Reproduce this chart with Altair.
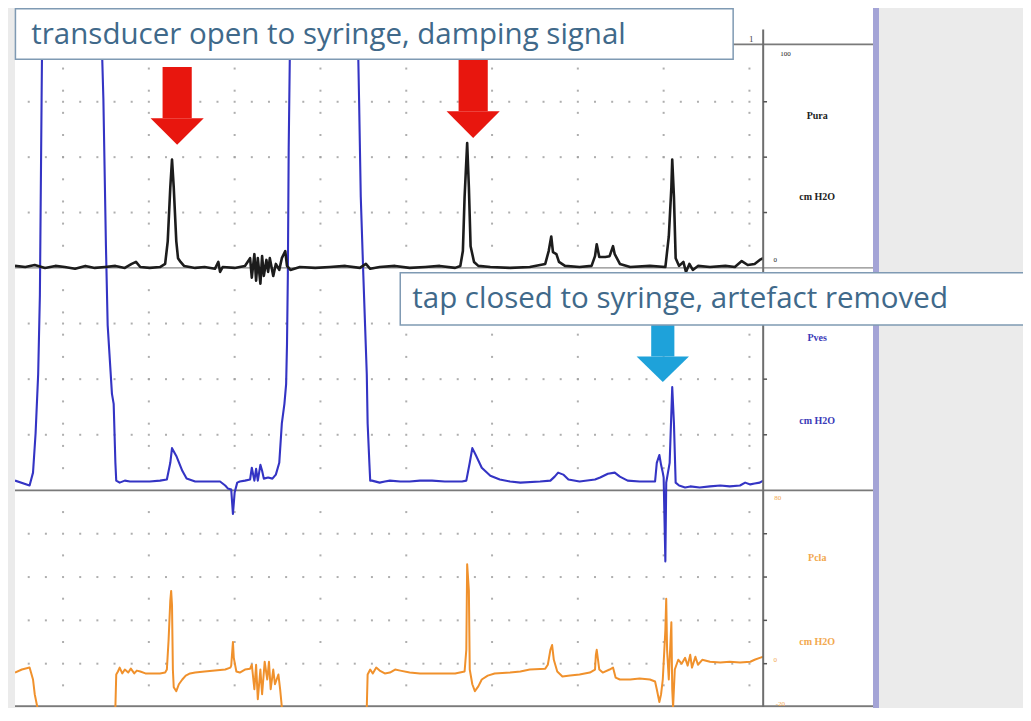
import altair as alt
import pandas as pd

# ---------------- trace data: time (s), pressure (cmH2O) ----------------
pura_t = [0.0, 1.2, 2.3, 3.5, 4.7, 5.8, 7.0, 8.2, 9.3, 10.5, 11.7, 12.8, 13.6, 14.1, 14.6, 15.7, 16.9, 17.5, 17.8, 18.1,
          18.3, 18.5, 18.8, 19.0, 19.3, 19.7, 21.0, 22.1, 23.3, 23.7, 23.9, 24.2, 25.6, 26.8, 27.4, 27.6, 27.9, 28.1, 28.3, 28.6,
          28.8, 29.0, 29.3, 29.5, 29.7, 30.1, 30.4, 30.8, 31.1, 31.5, 31.7, 32.1, 33.2, 35.0, 36.7, 38.5, 40.2, 40.9, 41.4, 42.5,
          44.3, 46.0, 47.8, 49.5, 51.3, 51.9, 52.2, 52.4, 52.7, 52.9, 53.1, 53.5, 54.0, 55.4, 57.7, 60.0, 61.8, 62.2, 62.5, 62.7,
          63.1, 63.4, 64.1, 65.8, 67.2, 67.6, 67.8, 68.1, 68.8, 69.3, 69.7, 69.9, 70.5, 71.7, 74.0, 75.8, 76.2, 76.5, 76.6, 76.8,
          77.0, 77.4, 77.9, 78.2, 78.6, 79.0, 79.6, 81.0, 82.8, 83.9, 84.7, 85.4, 86.2, 86.8, 87.2]
pura_v = [0.9, 0.4, 1.3, 0.0, 0.9, 0.4, -0.4, 0.9, 0.0, 0.4, 0.9, 0.0, 1.8, 2.7, 0.4, 0.0, 0.4, 1.8, 12.0, 36.4,
          48.9, 36.4, 12.0, 4.4, 2.7, 0.9, 0.0, 0.4, -0.4, 2.7, -1.8, 0.4, 0.0, 0.9, 4.4, -4.4, 6.2, -5.8, 4.4, -7.1,
          5.3, -3.6, 3.6, -1.8, 4.4, -3.6, 1.8, -0.9, 4.4, 7.6, 0.9, -0.9, 0.4, 0.0, 0.4, 0.9, 0.0, 1.8, -0.4, 0.4,
          0.9, 0.0, 0.4, 0.9, 0.0, 0.9, 7.6, 32.0, 56.4, 36.4, 9.8, 2.7, 0.9, 0.4, 0.0, 0.4, 1.8, 7.6, 14.2, 7.1,
          6.2, 2.7, 0.9, 0.4, 0.9, 5.3, 10.7, 4.9, 4.9, 5.3, 9.8, 6.2, 1.8, 0.4, 0.9, 0.4, 14.2, 36.4, 48.9, 32.0,
          4.4, 0.9, 2.7, -1.8, 1.8, -0.9, 0.9, 0.4, 0.9, 0.4, 3.1, 1.3, 1.8, 3.6, 4.4]

pves_t = [0.0, 1.7, 2.1, 2.4, 2.7, 2.9, 3.0, 3.1, 3.4, 9.9, 10.0, 10.3, 10.6, 10.8, 11.3, 11.5, 11.7, 11.8, 12.2, 12.8,
          13.4, 14.6, 15.7, 16.9, 17.7, 18.1, 18.3, 18.8, 19.5, 20.0, 21.0, 22.7, 23.9, 24.5, 24.8, 25.2, 25.4, 25.6, 25.9, 26.2,
          26.8, 27.4, 27.6, 27.9, 28.1, 28.3, 28.6, 28.8, 29.0, 29.5, 30.0, 30.4, 30.8, 31.1, 31.4, 31.6, 31.7, 31.8, 31.9, 32.1,
          32.3, 39.7, 39.9, 40.1, 40.3, 40.6, 40.8, 41.0, 41.1, 41.3, 41.4, 41.6, 42.5, 43.1, 43.7, 44.9, 46.0, 47.2, 48.6, 50.1,
          52.1, 52.6, 53.0, 53.3, 53.7, 54.4, 55.4, 56.5, 57.7, 58.9, 61.2, 62.4, 62.9, 63.3, 63.9, 64.5, 65.8, 67.6, 68.2, 69.1,
          69.9, 70.5, 71.4, 72.8, 74.6, 74.8, 75.1, 75.3, 75.5, 75.6, 75.8, 75.9, 76.3, 76.6, 76.8, 77.0, 77.4, 78.1, 78.7, 79.8,
          81.0, 82.2, 83.3, 84.5, 85.1, 85.7, 86.2, 86.8, 87.2]
pves_v = [4.4, 2.2, 8.0, 25.7, 52.2, 87.6, 131.9, 176.1, 300, 300, 216.8, 176.1, 109.7, 74.3, 43.4, 38.9, 12.4, 4.4, 3.5, 4.4,
          4.0, 4.0, 4.0, 4.4, 4.9, 12.4, 19.0, 15.5, 8.8, 5.3, 4.0, 4.0, 4.0, 2.2, 0.9, 0.4, -10.6, -0.9, 3.5, 4.0,
          4.4, 4.9, 10.2, 4.4, 9.7, 4.4, 11.5, 8.8, 5.3, 5.8, 5.3, 7.1, 12.4, 30.1, 38.9, 47.8, 65.5, 96.5, 154.0, 216.8,
          300, 300, 216.8, 176.1, 131.9, 96.5, 74.3, 52.2, 30.1, 12.4, 4.4, 4.4, 3.5, 4.0, 4.4, 4.0, 4.0, 4.4, 4.4, 4.0,
          4.0, 4.4, 12.4, 19.0, 15.9, 10.2, 6.6, 4.9, 4.0, 3.5, 4.0, 4.4, 6.2, 8.0, 7.1, 4.9, 4.0, 4.9, 5.8, 7.5,
          8.0, 6.2, 4.4, 4.0, 4.0, 12.4, 15.9, 11.5, 8.0, 5.8, -31.9, 3.5, 12.4, 46.5, 30.1, 3.5, 2.2, 1.3, 1.8, 1.3,
          1.8, 2.2, 1.8, 2.2, 3.5, 2.7, 3.1, 3.5, 4.4]

pcla_t = [0.0, 0.8, 1.7, 2.1, 2.3, 2.6, 2.7, 11.5, 11.7, 11.8, 12.0, 12.2, 12.5, 12.8, 13.2, 13.5, 13.9, 14.2, 14.6, 15.2,
          15.7, 16.9, 17.5, 17.7, 17.9, 18.1, 18.2, 18.3, 18.4, 18.5, 18.8, 19.1, 19.5, 19.9, 20.4, 21.0, 22.1, 23.3, 24.5, 25.1,
          25.2, 25.4, 25.5, 25.8, 26.2, 26.8, 27.4, 27.6, 27.9, 28.1, 28.3, 28.6, 28.8, 29.1, 29.4, 29.6, 29.8, 30.1, 30.3, 30.7,
          30.9, 31.1, 31.2, 40.9, 41.0, 41.1, 41.4, 41.7, 42.1, 42.5, 43.1, 43.7, 44.3, 44.9, 46.0, 47.2, 48.4, 49.5, 51.3, 52.4,
          52.6, 52.7, 52.9, 53.0, 53.3, 53.6, 54.0, 54.4, 55.1, 55.9, 57.7, 58.9, 60.0, 61.8, 62.1, 62.4, 62.6, 62.8, 63.2, 63.8,
          64.7, 65.8, 67.0, 67.6, 67.7, 67.8, 68.1, 68.5, 69.3, 69.7, 70.0, 70.5, 71.7, 72.8, 74.0, 74.6, 74.8, 75.1, 75.3, 75.5,
          75.8, 75.9, 76.0, 76.2, 76.5, 76.6, 76.7, 76.9, 77.3, 77.7, 78.1, 78.4, 78.7, 78.9, 79.3, 79.6, 80.1, 81.0, 82.2, 83.3,
          84.5, 85.7, 86.2, 86.8, 87.2]
pcla_v = [-4.1, -2.7, -1.8, -7.3, -14.1, -20.0, -40, -40, -20.0, -5.0, -3.6, -1.8, -4.5, -2.7, -4.1, -2.3, -4.5, -3.2, -3.6, -4.5,
          -4.5, -4.5, -4.1, -2.7, 10.9, 29.1, 33.6, 26.8, -2.7, -10.9, -12.7, -9.5, -7.3, -5.5, -4.5, -4.1, -3.6, -3.2, -2.7, -1.8,
          -0.9, 10.0, 2.7, -3.6, -4.1, -2.7, -2.3, -0.5, -11.8, -0.5, -16.4, -2.7, -14.1, 0.9, -7.3, 0.9, -11.8, -2.7, -9.5, -5.0,
          -11.8, -20.0, -40, -40, -20.0, -5.0, -2.7, -4.5, -1.8, -3.2, -4.5, -4.1, -2.7, -3.2, -4.1, -4.5, -4.5, -4.5, -4.5, -3.6,
          6.4, 45.9, 33.6, -2.7, -9.5, -12.7, -10.5, -7.3, -5.5, -4.5, -4.1, -3.6, -2.7, -2.3, -0.5, 6.4, 8.6, 1.8, -3.6, -5.9,
          -5.5, -5.0, -4.1, -2.7, 4.1, 6.4, -2.7, -4.1, -2.7, -1.8, -6.4, -7.3, -7.3, -6.8, -7.3, -8.2, -11.8, -17.7, -14.1, -7.3,
          15.5, 30.0, 6.4, -7.3, 19.1, -11.8, -20.0, -2.7, 1.8, 0.0, 2.7, -0.9, 4.1, -1.8, 3.2, -0.5, 1.8, 0.9, 0.5, 0.9,
          0.5, 0.9, 1.8, 2.7, 3.2]

# channel labels and scale labels
channels = ["Pura", "Pves", "Pcla"]
unit = "cm H2O"
scale_labels = [("Pura", "100"), ("Pura", "0"), ("Pcla", "80"), ("Pcla", "0"), ("Pcla", "-20")]
note_open = "transducer open to syringe, damping signal"
note_closed = "tap closed to syringe, artefact removed"

# ---------------- layout ----------------
W, H = 858, 699          # plot area (px)
REF_H = 710.0            # proportions of the recording window
T_MAX = 100.0            # seconds across plot area
T_END = 87.2             # end of recording / axis line


def band_domain(v_lo, px_lo, v_hi, px_hi):
    k = (v_hi - v_lo) / (px_lo - px_hi)
    return [v_lo - (REF_H - px_lo) * k, v_hi + px_hi * k]


DOM = {
    "Pura": band_domain(0, 264, 100, 39),
    "Pves": band_domain(0, 490, 100, 264),
    "Pcla": band_domain(-20, 710, 80, 490),
}
COL = {"Pura": "#1c1c1c", "Pves": "#3434c4", "Pcla": "#f0912c"}
LABCOL = {"Pura": "#222222", "Pves": "#3a3ab8", "Pcla": "#f2a84e"}

xs = alt.Scale(domain=[0, T_MAX], nice=False, zero=False)


def X(f="t"):
    return alt.X(f"{f}:Q", scale=xs, axis=None)


def Y(ch, f="v"):
    return alt.Y(f"{f}:Q", scale=alt.Scale(domain=DOM[ch], nice=False, zero=False), axis=None)


layers = []

# dotted grid
grid_cols = [5.6 + 10 * k for k in range(9)]
row_ts = [1.6 + 2 * k for k in range(43)]
grid_rows = {"Pura": [25, 50, 75], "Pves": [25, 50, 75], "Pcla": [0, 20, 40, 60]}
grid_colv = {"Pura": list(range(10, 100, 10)), "Pves": list(range(10, 100, 10)), "Pcla": [-10, 10, 30, 50, 70]}
for ch in channels:
    pts = [(t, r) for r in grid_rows[ch] for t in row_ts] + [(c, v) for c in grid_cols for v in grid_colv[ch]]
    df = pd.DataFrame(pts, columns=["t", "v"])
    layers.append(alt.Chart(df).mark_square(size=4, color="#a0a0a0", opacity=0.85).encode(x=X(), y=Y(ch)))

# panel separators (in each channel's own units)
sep = pd.DataFrame({"t": [0.0], "t2": [T_MAX], "v": [0.0]})
layers.append(alt.Chart(sep).mark_rule(color="#8a8a8a", strokeWidth=1.2).encode(x=X(), x2="t2:Q", y=Y("Pura")))
layers.append(alt.Chart(sep).mark_rule(color="#7a7a7a", strokeWidth=1.6).encode(x=X(), x2="t2:Q", y=Y("Pves")))
sep3 = pd.DataFrame({"t": [0.0], "t2": [T_MAX], "v": [-19.6]})
layers.append(alt.Chart(sep3).mark_rule(color="#7a7a7a", strokeWidth=1.6).encode(x=X(), x2="t2:Q", y=Y("Pcla")))
top_line = pd.DataFrame({"t": [83.7], "t2": [T_MAX], "v": [100.9]})
layers.append(alt.Chart(top_line).mark_rule(color="#7a7a7a", strokeWidth=1.6).encode(x=X(), x2="t2:Q", y=Y("Pura")))

# traces
for ch, tt, vv, w in [("Pcla", pcla_t, pcla_v, 2.0), ("Pves", pves_t, pves_v, 2.1), ("Pura", pura_t, pura_v, 2.6)]:
    df = pd.DataFrame({"t": tt, "v": vv, "i": list(range(len(tt)))})
    layers.append(alt.Chart(df).mark_line(color=COL[ch], strokeWidth=w, clip=True, strokeJoin="round").encode(
        x=X(), y=Y(ch), order="i:Q"))

# axis line with ticks
ax = pd.DataFrame({"t": [T_END], "v": [107.6], "v2": [DOM["Pura"][0]]})
layers.append(alt.Chart(ax).mark_rule(color="#6e6e6e", strokeWidth=2).encode(x=X(), y=Y("Pura"), y2="v2:Q"))
for ch in channels:
    tk = pd.DataFrame({"t": [T_END] * len(grid_rows[ch]), "t2": [T_END + 0.45] * len(grid_rows[ch]), "v": grid_rows[ch]})
    layers.append(alt.Chart(tk).mark_rule(color="#555555", strokeWidth=1.5).encode(x=X(), x2="t2:Q", y=Y(ch)))

# right-hand labels
lab_v = {"Pura": (68.4, 32.0), "Pves": (68.6, 31.0), "Pcla": (48.6, 10.0)}
for ch in channels:
    df = pd.DataFrame({"t": [93.5, 93.5], "v": list(lab_v[ch]), "s": [ch, unit]})
    layers.append(alt.Chart(df).mark_text(font="Liberation Serif", fontWeight="bold", fontSize=10,
                                          color=LABCOL[ch]).encode(x=X(), y=Y(ch), text="s:N"))
scl_pos = [(89.8, 96.5), (88.6, 3.4), (88.9, 76.5), (88.6, 1.8), (89.2, -18.4)]
for (ch, s), (t, v) in zip(scale_labels, scl_pos):
    df = pd.DataFrame({"t": [t], "v": [v], "s": [s]})
    layers.append(alt.Chart(df).mark_text(font="Liberation Serif", fontSize=7, color=LABCOL[ch]).encode(
        x=X(), y=Y(ch), text="s:N"))
one = pd.DataFrame({"t": [85.8], "v": [103.3], "s": ["1"]})
layers.append(alt.Chart(one).mark_text(font="Liberation Serif", fontSize=9, color="#444").encode(x=X(), y=Y("Pura"), text="s:N"))

# right border bar (drawn under the note boxes)
bar = pd.DataFrame({"t": [T_MAX], "t2": [T_MAX + 0.7], "v": [DOM["Pura"][1]], "v2": [DOM["Pura"][0] - 3]})
layers.append(alt.Chart(bar).mark_rect(color="#a4a4d6").encode(x=X(), x2="t2:Q", y=Y("Pura"), y2="v2:Q"))

# arrows
def arrow(ch, tc, shaft_w, head_w, top, base, tip, color):
    shaft = pd.DataFrame({"t": [tc - shaft_w / 2], "t2": [tc + shaft_w / 2], "v": [top], "v2": [base]})
    head = pd.DataFrame({"t": [tc - head_w / 2, tc, tc + head_w / 2], "v": [base, base, base], "v2": [base, tip, base]})
    return [alt.Chart(shaft).mark_rect(color=color).encode(x=X(), x2="t2:Q", y=Y(ch), y2="v2:Q"),
            alt.Chart(head).mark_area(color=color, opacity=1).encode(x=X(), y=Y(ch), y2="v2:Q")]

layers += arrow("Pura", 18.9, 3.4, 6.2, 90.7, 67.6, 55.6, "#e8160e")
layers += arrow("Pura", 53.4, 3.4, 6.2, 94.5, 70.7, 58.7, "#e8160e")
layers += arrow("Pves", 75.5, 2.7, 6.1, 74.3, 60.2, 48.7, "#1ea2da")

# note boxes
b1 = pd.DataFrame({"t": [0.05], "t2": [83.7], "v": [117.0], "v2": [94.2]})
layers.append(alt.Chart(b1).mark_rect(fill="white", stroke="#7f9ab3", strokeWidth=1.5).encode(
    x=X(), x2="t2:Q", y=Y("Pura"), y2="v2:Q"))
n1 = pd.DataFrame({"t": [1.9], "v": [105.0], "s": [note_open]})
layers.append(alt.Chart(n1).mark_text(font="Open Sans", fontSize=29.5, align="left", baseline="middle",
                                      color="#40698a").encode(x=X(), y=Y("Pura"), text="s:N"))
b2 = pd.DataFrame({"t": [44.9], "t2": [120.0], "v": [97.8], "v2": [74.3]})
layers.append(alt.Chart(b2).mark_rect(fill="white", stroke="#7f9ab3", strokeWidth=1.5).encode(
    x=X(), x2="t2:Q", y=Y("Pves"), y2="v2:Q"))
n2 = pd.DataFrame({"t": [46.3], "v": [86.0], "s": [note_closed]})
layers.append(alt.Chart(n2).mark_text(font="Open Sans", fontSize=29.5, align="left", baseline="middle",
                                      color="#40698a").encode(x=X(), y=Y("Pves"), text="s:N"))

chart = alt.layer(*layers).resolve_scale(y="independent").properties(
    width=W, height=H,
    autosize=alt.AutoSizeParams(type="none"),
    padding={"left": 7, "top": 0, "right": 150, "bottom": 1},
).configure(background="#ebebeb").configure_view(fill="white", stroke=None)

chart.save("out.html", embed_options={"renderer": "svg", "actions": False})
